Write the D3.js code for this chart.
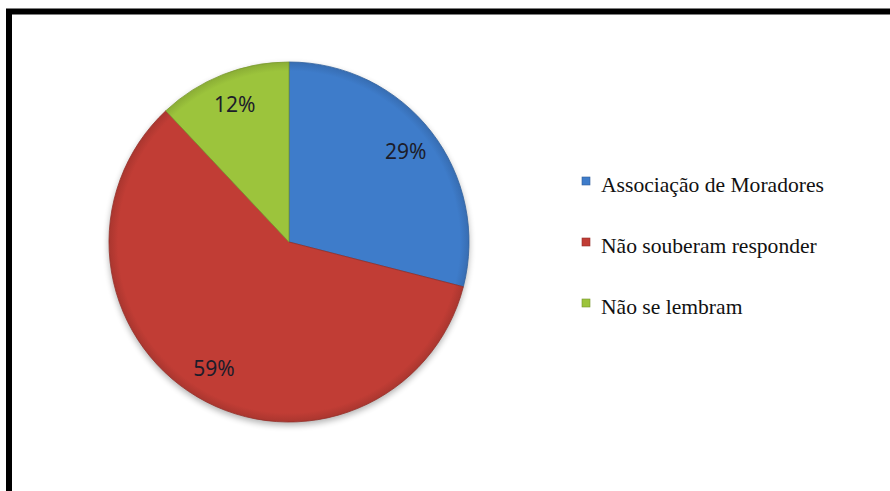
<!DOCTYPE html>
<html>
<head>
<meta charset="utf-8">
<script src="https://cdn.jsdelivr.net/npm/d3@7"></script>
<style>
  body { margin: 0; background: #fff; }
  svg { display: block; }
</style>
</head>
<body>
<div id="roott"></div>
<script>
// data
const categories = ["Associação de Moradores", "Não souberam responder", "Não se lembram"];
const values = [29, 59, 12];
const pctLabels = ["29%", "59%", "12%"];
const colors = ["#3e7cca", "#c13d35", "#9cc43c"];

const W = 890, H = 491;
const cx = 289, cy = 242, r = 180;

const svg = d3.select('#roott').append('svg')
  .attr('width', W).attr('height', H);

const defs = svg.append('defs');

// soft shadow under the pie
const f = defs.append('filter').attr('id', 'shad')
  .attr('color-interpolation-filters', 'sRGB')
  .attr('x', '-20%').attr('y', '-20%').attr('width', '140%').attr('height', '140%');
f.append('feGaussianBlur').attr('in', 'SourceAlpha').attr('stdDeviation', 3);
f.append('feOffset').attr('dx', 0).attr('dy', 3).attr('result', 'b');
f.append('feComponentTransfer').append('feFuncA').attr('type', 'linear').attr('slope', 0.3);
const fm = f.append('feMerge');
fm.append('feMergeNode');
fm.append('feMergeNode').attr('in', 'SourceGraphic');

// slight bevel at the rim (gradient centred on the pie's own origin)
colors.forEach((c, i) => {
  const g = defs.append('radialGradient').attr('id', 'grad' + i)
    .attr('gradientUnits', 'userSpaceOnUse')
    .attr('cx', 0).attr('cy', 0).attr('r', r);
  g.append('stop').attr('offset', '0%').attr('stop-color', c);
  g.append('stop').attr('offset', '95%').attr('stop-color', c);
  g.append('stop').attr('offset', '100%').attr('stop-color', d3.color(c).darker(0.35));
});

// frame (cut off at right and bottom like the picture)
svg.append('rect')
  .attr('x', 9).attr('y', 11.5)
  .attr('width', W + 20).attr('height', H + 20)
  .attr('fill', 'none').attr('stroke', '#000').attr('stroke-width', 6);

const pie = d3.pie().sort(null).value(d => d);
const arc = d3.arc().innerRadius(0).outerRadius(r);
const labelArc = d3.arc().innerRadius(r * 0.82).outerRadius(r * 0.82);
const arcs = pie(values);

const gp = svg.append('g').attr('transform', `translate(${cx},${cy})`);
const pieG = gp.append('g').attr('filter', 'url(#shad)');

pieG.selectAll('path')
  .data(arcs)
  .enter()
  .append('path')
  .attr('d', arc)
  .attr('fill', (d, i) => `url(#grad${i})`)
  .attr('stroke', (d, i) => d3.color(colors[i]).darker(0.7))
  .attr('stroke-width', 0.8)
  .attr('stroke-linejoin', 'round');

gp.selectAll('text.pct')
  .data(arcs)
  .enter()
  .append('text')
  .attr('class', 'pct')
  .attr('x', d => labelArc.centroid(d)[0])
  .attr('y', d => labelArc.centroid(d)[1])
  .attr('dy', '0.35em')
  .attr('text-anchor', 'middle')
  .style('font-family', '"Noto Sans", sans-serif')
  .style('font-size', '21px')
  .style('fill', '#1c1c2a')
  .text((d, i) => pctLabels[i]);

// legend
const legY = d3.scalePoint().domain(categories).range([192, 314]);
const leg = svg.append('g');
const items = leg.selectAll('g')
  .data(categories)
  .enter()
  .append('g')
  .attr('transform', d => `translate(582,${legY(d)})`);

items.append('rect')
  .attr('x', 0).attr('y', -15)
  .attr('width', 8).attr('height', 8)
  .attr('fill', (d, i) => colors[i])
  .attr('stroke', (d, i) => d3.color(colors[i]).darker(0.8))
  .attr('stroke-width', 0.6);

items.append('text')
  .attr('x', 0).attr('y', 0)
  .attr('transform', 'translate(19,0) scale(1.08,1)')
  .style('font-family', '"Liberation Serif", "Times New Roman", serif')
  .style('font-size', '20px')
  .style('fill', '#111')
  .text(d => d);
</script>
</body>
</html>
